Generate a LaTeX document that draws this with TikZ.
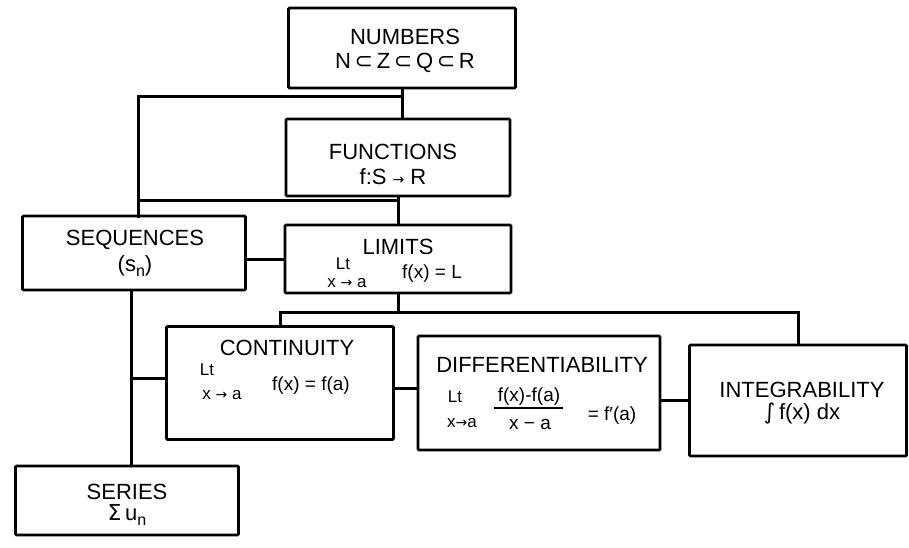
\documentclass[tikz,border=0pt]{standalone}
\usepackage{fontspec}
\setmainfont{Liberation Sans}
\newfontfamily\symfont{DejaVu Sans}
\tikzset{
  box/.style={draw=black, line width=2.8pt, fill=white, rounded corners=1pt, inner sep=0pt},
  conn/.style={line width=3pt, line cap=rect},
  title/.style={inner sep=0pt, font=\fontsize{22}{24}\selectfont},
  formula/.style={inner sep=0pt, font=\fontsize{19}{22}\selectfont},
  small/.style={inner sep=0pt, font=\fontsize{17}{20}\selectfont}
}
\newcommand{\subn}{\raisebox{-0.45ex}{\fontsize{16}{18}\selectfont n}}
\newcommand{\arr}{{\symfont\fontsize{14}{16}\selectfont →}}
\begin{document}
\begin{tikzpicture}[x=1pt,y=-1pt]
\useasboundingbox (0,0) rectangle (909,547);
\coordinate (nj) at (402,96);
\coordinate (sj) at (138,216);
\coordinate (fj) at (398,200);
\coordinate (lj) at (398,312);
\coordinate (sstem) at (131,290);

\node[box, minimum width=227pt, minimum height=80pt] (numbers) at (402,48) {};
\node[box, minimum width=224pt, minimum height=77pt] (functions) at (398,157.5) {};
\node[box, minimum width=223pt, minimum height=74pt] (seq) at (134,253) {};
\node[box, minimum width=226pt, minimum height=68pt] (limits) at (398,259) {};
\node[box, minimum width=227pt, minimum height=113pt] (cont) at (280,383) {};
\node[box, minimum width=242pt, minimum height=114pt] (diff) at (539,393) {};
\node[box, minimum width=217pt, minimum height=111pt] (integ) at (798,400.5) {};
\node[box, minimum width=223pt, minimum height=69pt] (series) at (127,500.5) {};

\draw[conn] (numbers.south) -- (numbers.south |- functions.north);
\draw[conn] (nj) -| (sj);
\draw[conn] (functions.south) -- (functions.south |- limits.north);
\draw[conn] (fj) -- (fj -| sj);
\draw[conn] (limits.west) -- (limits.west -| seq.east);
\draw[conn] (limits.south) -- (lj);
\draw[conn] (cont.north) |- (integ.north |- lj) -- (integ.north);
\draw[conn] (sstem) -- (sstem |- series.north);
\draw[conn] ([yshift=5pt]cont.west) -| (sstem);
\path ([yshift=-5pt]cont.east) coordinate (cd);
\draw[conn] (cd) -- (cd -| diff.west);
\draw[conn] (integ.west) -- (integ.west -| diff.east);

% texts
\node[title] (t1) at (405,37) {NUMBERS};
\node[title] (t1b) at (405,63) {N\,{\symfont ⊂}\,Z\,{\symfont ⊂}\,Q\,{\symfont ⊂}\,R};
\node[title] (t2) at (393,152) {FUNCTIONS};
\node[title] (t2b) at (393,177) {f:S \arr\ R};
\node[title] (t3) at (135,240) {SEQUENCES};
\node[title] (t3b) at (135,266) {(s\subn)};
\node[title] (t4) at (398,247) {LIMITS};
\node[small] (t4a) at (343,264) {Lt};
\node[small] (t4b) at (347,283) {x \arr\ a};
\node[formula] (t4c) at (432,274) {f(x) = L};
\node[title] (t5) at (287,348) {CONTINUITY};
\node[small] (t5a) at (207,370) {Lt};
\node[small] (t5b) at (222,395) {x \arr\ a};
\node[formula] (t5c) at (311,386) {f(x) = f(a)};
\node[title] (t6) at (542,365) {DIFFERENTIABILITY};
\node[small] (t6a) at (455,397) {Lt};
\node[small] (t6b) at (462,423) {x\arr a};
\node[formula] (t6c) at (529,397) {f(x)-f(a)};
\coordinate (fb1) at (494,408);
\coordinate (fb2) at (563,408);
\draw[line width=1.3pt] (fb1) -- (fb2);
\node[formula] (t6d) at (530,424) {x − a};
\node[formula] (t6e) at (612,416) {= f′(a)};
\node[title] (t7) at (802,390) {INTEGRABILITY};
\node[title] (t7b) at (802,414) {{\symfont ∫}\,f(x) dx};
\node[title] (t8) at (127,492) {SERIES};
\node[title] (t8b) at (127,515) {{\symfont Σ}\,u\subn};
\end{tikzpicture}
\end{document}
